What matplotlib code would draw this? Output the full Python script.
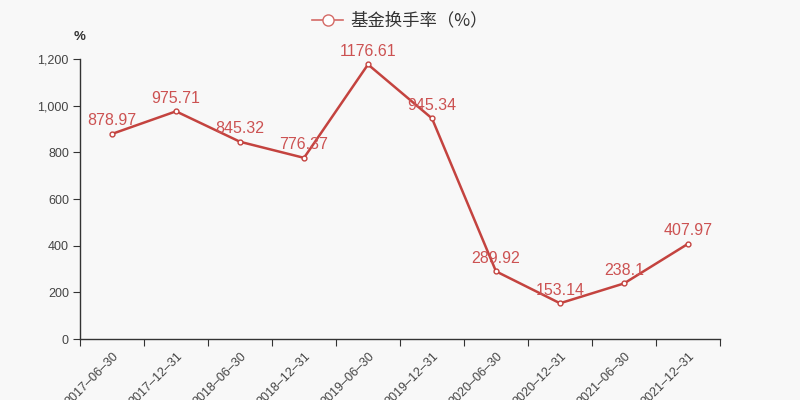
import matplotlib.pyplot as plt
from matplotlib.lines import Line2D

dates = ["2017–06–30", "2017–12–31", "2018–06–30", "2018–12–31", "2019–06–30",
         "2019–12–31", "2020–06–30", "2020–12–31", "2021–06–30", "2021–12–31"]
turnover = [878.97, 975.71, 845.32, 776.37, 1176.61, 945.34, 289.92, 153.14, 238.1, 407.97]
label_text = ["878.97", "975.71", "845.32", "776.37", "1176.61",
              "945.34", "289.92", "153.14", "238.1", "407.97"]
yticks = [0, 200, 400, 600, 800, 1000, 1200]

plt.rcParams['font.family'] = ['Liberation Sans', 'Noto Sans CJK SC', 'DejaVu Sans']

bg = '#f8f8f8'
line_c = '#c4433f'
txt_c = '#333333'

fig = plt.figure(figsize=(8, 4), dpi=100, facecolor=bg)
ax = fig.add_axes([0.1, 0.1525, 0.8, 0.70])
ax.set_facecolor(bg)

x = [i + 0.5 for i in range(len(dates))]
ax.plot(x, turnover, color=line_c, lw=1.8, marker='o', ms=3.5,
        mfc='white', mec=line_c, mew=1, zorder=3)

for xi, v, t in zip(x, turnover, label_text):
    ax.annotate(t, (xi, v), xytext=(0, 4), textcoords='offset points',
                ha='center', va='bottom', color='#cc5252', fontsize=11.5)

ax.set_xlim(0, len(dates))
ax.set_ylim(0, 1200)
ax.set_xticks(range(len(dates) + 1))
ax.set_xticklabels([])
ax.set_xticks(x, minor=True)
ax.set_xticklabels(dates, minor=True, rotation=45, ha='right', va='top',
                   rotation_mode='anchor', fontsize=9, color='#444444')
ax.tick_params(axis='x', which='minor', length=0, pad=8)
ax.tick_params(axis='x', which='major', length=5, color=txt_c)
ax.set_yticks(yticks)
ax.set_yticklabels([f"{v:,}" for v in yticks], fontsize=9, color='#444444')
ax.tick_params(axis='y', length=5, color=txt_c, pad=3)

for s in ['top', 'right']:
    ax.spines[s].set_visible(False)
for s in ['left', 'bottom']:
    ax.spines[s].set_color(txt_c)
    ax.spines[s].set_linewidth(1)

ax.text(0, 1.079, '%', transform=ax.transAxes, fontsize=9.5, color=txt_c,
        fontweight='bold', ha='center', va='center')

handle = Line2D([], [], color='#d46a66', lw=1.2, marker='o', ms=8,
                mfc='white', mec='#d46a66', mew=1)
leg = fig.legend([handle], ['基金换手率（%）'], loc='upper center',
                 bbox_to_anchor=(0.5, 1.01), frameon=False,
                 prop={'family': ['Noto Sans CJK SC'], 'size': 12.5},
                 handlelength=1.8, handletextpad=0.4)
for t in leg.get_texts():
    t.set_color(txt_c)

fig.savefig('out.png', dpi=100, facecolor=bg)
